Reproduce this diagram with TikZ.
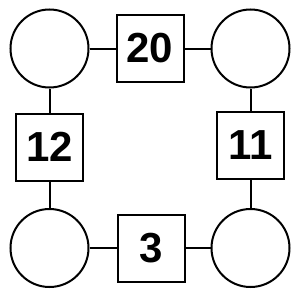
\documentclass[tikz,border=0pt]{standalone}
\usepackage{fontspec}
\setmainfont{Liberation Sans}
\begin{document}
\begin{tikzpicture}[x=1pt,y=-1pt,
  ring/.style={draw,line width=2pt,circle,minimum size=78pt,inner sep=0pt},
  numbox/.style={draw,line width=2pt,minimum size=67pt,inner sep=0pt,font=\fontsize{42}{42}\selectfont\bfseries},
  link/.style={line width=2pt}]
\useasboundingbox (0,0) rectangle (300,300);
\node[ring] (tl) at (49.5,48.5) {};
\node[ring] (tr) at (250.5,48.5) {};
\node[ring] (bl) at (49.5,248) {};
\node[ring] (br) at (250.5,248) {};
\node[numbox] (t) at (150,48.5) {20};
\node[numbox] (l) at (49.5,147) {12};
\node[numbox] (r) at (250.5,145) {11};
\node[numbox] (b) at (151,248) {3};
\draw[link] (tl) -- (t) -- (tr);
\draw[link] (tl) -- (l) -- (bl);
\draw[link] (tr) -- (r) -- (br);
\draw[link] (bl) -- (b) -- (br);
\end{tikzpicture}
\end{document}
